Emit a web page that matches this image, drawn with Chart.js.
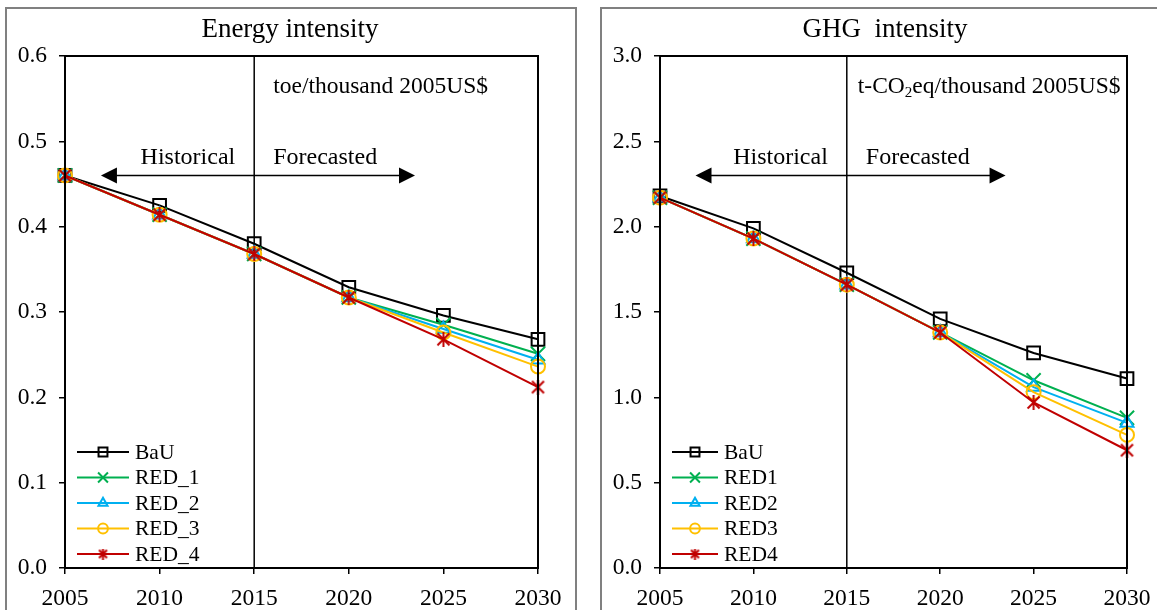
<!DOCTYPE html>
<html>
<head>
<meta charset="utf-8">
<script src="https://cdn.jsdelivr.net/npm/chart.js@4.4.1/dist/chart.umd.min.js"></script>
<style>
  html, body { margin: 0; padding: 0; background: #fff; width: 1157px; height: 610px; overflow: hidden; position: relative; }
  .box { position: absolute; border: 2px solid #808080; box-sizing: border-box; }
  canvas { position: absolute; top: 0; }
</style>
</head>
<body>
<div class="box" style="left:5px; top:7px; width:572px; height:640px;"></div>
<div class="box" style="left:600px; top:7px; width:572px; height:640px;"></div>
<canvas id="energyChart" width="570" height="610" style="left:5px;"></canvas>
<canvas id="ghgChart" width="570" height="610" style="left:600px;"></canvas>
<script>
// data
const years = [2005, 2010, 2015, 2020, 2025, 2030];

const energyBaU  = [0.460, 0.425, 0.380, 0.329, 0.296, 0.268];
const energyRed1 = [0.460, 0.414, 0.368, 0.317, 0.285, 0.251];
const energyRed2 = [0.460, 0.414, 0.368, 0.317, 0.280, 0.244];
const energyRed3 = [0.460, 0.414, 0.368, 0.317, 0.276, 0.236];
const energyRed4 = [0.460, 0.414, 0.368, 0.317, 0.268, 0.212];

const ghgBaU  = [2.18, 1.99, 1.73, 1.46, 1.26, 1.11];
const ghgRed1 = [2.17, 1.93, 1.66, 1.38, 1.10, 0.88];
const ghgRed2 = [2.17, 1.93, 1.66, 1.38, 1.06, 0.85];
const ghgRed3 = [2.17, 1.93, 1.66, 1.38, 1.03, 0.78];
const ghgRed4 = [2.17, 1.93, 1.66, 1.38, 0.97, 0.69];

const energyLabels = ['BaU', 'RED_1', 'RED_2', 'RED_3', 'RED_4'];
const ghgLabels = ['BaU', 'RED1', 'RED2', 'RED3', 'RED4'];

// styles
const colors  = ['#000000', '#00B050', '#00B0F0', '#FFC000', '#C00000'];
const serif = "'Liberation Serif', 'Times New Roman', serif";

// excel-like star marker: an X with a vertical bar
function starMarker(size, color) {
  const c = document.createElement('canvas');
  c.width = size; c.height = size;
  const g = c.getContext('2d');
  const m = 1.5, h = size / 2;
  g.strokeStyle = color;
  g.lineWidth = 2;
  g.beginPath();
  g.moveTo(m, m); g.lineTo(size - m, size - m);
  g.moveTo(size - m, m); g.lineTo(m, size - m);
  g.moveTo(h, 0); g.lineTo(h, size);
  g.stroke();
  return c;
}
const markers = ['rect', 'crossRot', 'triangle', 'circle', starMarker(15, colors[4])];
const legendMarkers = ['rect', 'crossRot', 'triangle', 'circle', starMarker(11, colors[4])];
const radii   = [9, 10, 7.5, 7, 7];

function drawArrowHead(ctx, x, y, dir) {
  ctx.beginPath();
  ctx.moveTo(x, y);
  ctx.lineTo(x - dir * 16, y - 8);
  ctx.lineTo(x - dir * 16, y + 8);
  ctx.closePath();
  ctx.fill();
}

function makeChart(id, o) {
  const extras = {
    id: 'extras' + id,
    beforeDatasetsDraw(chart) {
      const ctx = chart.ctx, a = chart.chartArea;
      const x15 = chart.scales.x.getPixelForValue(2015);
      ctx.save();
      ctx.strokeStyle = '#000';
      ctx.lineWidth = 1.5;
      ctx.beginPath();
      ctx.moveTo(x15, a.top);
      ctx.lineTo(x15, a.bottom);
      ctx.stroke();
      ctx.restore();
    },
    afterDatasetsDraw(chart) {
      const ctx = chart.ctx, a = chart.chartArea;
      const xs = chart.scales.x, ys = chart.scales.y;
      const x15 = xs.getPixelForValue(2015);
      ctx.save();
      // title, centred in the bordered panel
      ctx.fillStyle = '#000';
      ctx.font = '27px ' + serif;
      ctx.textAlign = 'center';
      ctx.textBaseline = 'middle';
      ctx.fillText(o.title, chart.width / 2, 30);

      // frame round the plot
      ctx.strokeStyle = '#000';
      ctx.lineWidth = 2;
      ctx.strokeRect(a.left, a.top, a.right - a.left, a.bottom - a.top);

      // historical / forecasted arrow
      const ay = ys.getPixelForValue(o.arrowY);
      const ax1 = xs.getPixelForValue(2006.9), ax2 = xs.getPixelForValue(2023.5);
      ctx.lineWidth = 1.5;
      ctx.beginPath();
      ctx.moveTo(ax1 + 10, ay);
      ctx.lineTo(ax2 - 10, ay);
      ctx.stroke();
      drawArrowHead(ctx, ax1, ay, -1);
      drawArrowHead(ctx, ax2, ay, 1);

      ctx.font = '24px ' + serif;
      ctx.textAlign = 'right';
      ctx.fillText('Historical', x15 - 19, ay - 18);
      ctx.textAlign = 'left';
      ctx.fillText('Forecasted', x15 + 19, ay - 18);

      // unit text
      let ux = x15 + o.unitGap;
      const uy = a.top + 31;
      o.unitParts.forEach(p => {
        ctx.font = (p.sub ? '15px ' : '23.5px ') + serif;
        ctx.fillText(p.t, ux, p.sub ? uy + 6 : uy);
        ux += ctx.measureText(p.t).width;
      });

      // legend in the lower left corner
      const n = chart.data.datasets.length;
      chart.data.datasets.forEach((ds, i) => {
        const ly = a.bottom - o.legendGap - (n - 1 - i) * 25.5;
        const lx = a.left + 12;
        ctx.strokeStyle = ds.borderColor;
        ctx.lineWidth = 2;
        ctx.beginPath();
        ctx.moveTo(lx, ly);
        ctx.lineTo(lx + o.legendLine, ly);
        ctx.stroke();
        ctx.fillStyle = 'rgba(0,0,0,0)';
        Chart.helpers.drawPoint(ctx, {
          pointStyle: legendMarkers[i], radius: ds.pointRadius * 0.7, rotation: 0, borderWidth: 2
        }, lx + o.legendLine / 2, ly);
        ctx.fillStyle = '#000';
        ctx.font = '21.5px ' + serif;
        ctx.textAlign = 'left';
        ctx.fillText(ds.label, lx + o.legendLine + 6, ly + 1);
      });
      ctx.restore();
    }
  };

  const tickFont = { family: serif, size: 23.5 };
  return new Chart(document.getElementById(id), {
    type: 'line',
    data: {
      datasets: o.values.map((vals, i) => ({
        label: o.labels[i],
        data: years.map((yr, k) => ({ x: yr, y: vals[k] })),
        borderColor: colors[i],
        backgroundColor: colors[i],
        pointBorderColor: colors[i],
        pointBackgroundColor: 'rgba(0,0,0,0)',
        pointStyle: markers[i],
        pointRadius: radii[i],
        pointBorderWidth: 2,
        borderWidth: 2,
        tension: 0,
        clip: false,
        order: o.values.length - 1 - i
      }))
    },
    options: {
      responsive: false,
      animation: false,
      devicePixelRatio: 1,
      layout: { padding: { left: 0, right: o.padRight, top: 56, bottom: 0 } },
      plugins: {
        legend: { display: false },
        tooltip: { enabled: false },
        title: { display: false }
      },
      scales: {
        x: {
          type: 'linear',
          min: 2005,
          max: 2030,
          ticks: { stepSize: 5, autoSkip: false, maxRotation: 0, padding: 11, color: '#000', font: tickFont,
                   callback: v => String(v) },
          grid: { drawOnChartArea: false, drawTicks: true, tickLength: 6, color: '#000', lineWidth: 1.5 },
          border: { color: '#000', width: 2 },
          afterFit: s => { s.height = 42; }
        },
        y: {
          min: 0,
          max: o.yMax,
          ticks: { stepSize: o.yStep, padding: 12, color: '#000', font: tickFont,
                   callback: v => v.toFixed(1) },
          grid: { drawOnChartArea: false, drawTicks: true, tickLength: 6, color: '#000', lineWidth: 1.5 },
          border: { color: '#000', width: 2 },
          afterFit: s => { s.width = 60; }
        }
      }
    },
    plugins: [extras]
  });
}

makeChart('energyChart', {
  labels: energyLabels,
  values: [energyBaU, energyRed1, energyRed2, energyRed3, energyRed4],
  title: 'Energy intensity',
  yMax: 0.6, yStep: 0.1,
  arrowY: 0.46,
  unitGap: 19,
  unitParts: [{ t: 'toe/thousand 2005US$' }],
  legendGap: 14, legendLine: 52,
  padRight: 37
});

makeChart('ghgChart', {
  labels: ghgLabels,
  values: [ghgBaU, ghgRed1, ghgRed2, ghgRed3, ghgRed4],
  title: 'GHG  intensity',
  yMax: 3.0, yStep: 0.5,
  arrowY: 2.30,
  unitGap: 11,
  unitParts: [{ t: 't-CO' }, { t: '2', sub: true }, { t: 'eq/thousand 2005US$' }],
  legendGap: 14, legendLine: 46,
  padRight: 43
});
</script>
</body>
</html>
